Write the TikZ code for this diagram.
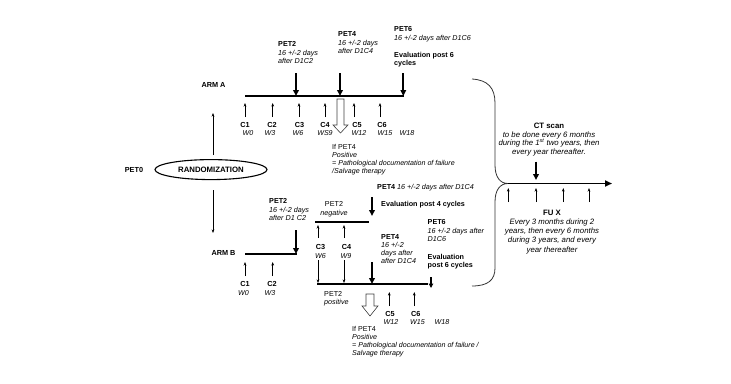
\documentclass[tikz,border=0pt]{standalone}
\usepackage{fontspec}
\setmainfont{Liberation Sans}
\usetikzlibrary{arrows.meta,shapes.geometric}
\begin{document}
\begin{tikzpicture}[x=1pt,y=-1pt,
  txt/.style={inner sep=0pt, align=left, anchor=north west, font=\fontsize{7.2}{8.7}\selectfont},
  ctxt/.style={inner sep=0pt, align=center, anchor=north},
  lab/.style={inner sep=0pt, font=\fontsize{7.3}{8.7}\selectfont\bfseries},
  wlab/.style={inner sep=0pt, font=\fontsize{7.1}{8.7}\selectfont\itshape},
  tline/.style={line width=2pt},
  thinarr/.style={-{Stealth[length=3.6pt,width=2.8pt]}, line width=0.65pt},
  thickarr/.style={-{Triangle[length=6pt,width=5.6pt]}, line width=1.8pt},
  hollow/.style={draw=black!75, line width=0.6pt, fill=white},
]
\useasboundingbox (0,0) rectangle (731,383);

% ---------------- ARM A ----------------
\node[lab] (armA) at (213.5,85) {ARM A};
\coordinate (a0) at (245,96);
\coordinate (a1) at (404,96);
\draw[tline] (a0) -- (a1);

\foreach \n/\x in {2/296,4/340,6/403.3}{
  \coordinate (pA\n t) at (\x,73);
  \coordinate (pA\n b) at (\x,96);
  \draw[thickarr] (pA\n t) -- (pA\n b);
}
\node[txt] (pet2A) at (278,41.3) {{\bfseries PET2}\\{\itshape 16 +/-2 days}\\{\itshape after D1C2}};
\node[txt] (pet4A) at (338,31.3) {{\bfseries PET4}\\{\itshape 16 +/-2 days}\\{\itshape after D1C4}};
\node[txt] (pet6A) at (394,26.5) {{\bfseries PET6}\\{\itshape 16 +/-2 days after D1C6}\\[8pt]{\bfseries Evaluation post 6}\\{\bfseries cycles}};

\foreach \n/\x in {1/245,2/272.7,3/299,4/325,5/354,6/380}{
  \coordinate (cA\n b) at (\x,117);
  \coordinate (cA\n t) at (\x,103);
  \draw[thinarr] (cA\n b) -- (cA\n t);
}
\foreach \n/\x in {1/245,2/272,3/299.5,4/325,5/357,6/382}{
  \node[lab] (CA\n) at (\x,125) {C\n};
}
\foreach \n/\w/\x in {1/W0/248,2/W3/270,3/W6/298,4/WS9/325,5/W12/359,6/W15/385,7/W18/407}{
  \node[wlab] (WA\n) at (\x,133.3) {\w};
}
\draw[hollow] (337,99) -- (344,99) -- (344,125) -- (348,125) -- (340.5,133) -- (333,125) -- (337,125) -- cycle;
\node[txt, font=\fontsize{7.1}{8}\selectfont\itshape] (ifA) at (332,144.3)
  {{\upshape If PET4}\\Positive\\= Pathological documentation of failure\\/Salvage therapy};

% ---------------- randomization ----------------
\node[draw, ellipse, line width=1.1pt, minimum width=112pt, minimum height=20pt, inner sep=0pt,
      font=\fontsize{7.8}{9}\selectfont\bfseries] (rand) at (211,169.6) {RANDOMIZATION};
\node[lab] (pet0) at (134,169.5) {PET0};
\coordinate (ru0) at (213,155);
\coordinate (ru1) at (213,113);
\draw[thinarr] (ru0) -- (ru1);
\coordinate (rd0) at (213,190);
\coordinate (rd1) at (213,233);
\draw[thinarr] (rd0) -- (rd1);

% ---------------- ARM B ----------------
\node[lab] (armB) at (223.5,253) {ARM B};
\coordinate (b0) at (245,254);
\coordinate (b1) at (297,254);
\draw[tline] (b0) -- (b1);
\coordinate (pB2t) at (296,230);
\coordinate (pB2b) at (296,254);
\draw[thickarr] (pB2t) -- (pB2b);
\node[txt] (pet2B) at (269,198.3) {{\bfseries PET2}\\{\itshape 16 +/-2 days}\\{\itshape after D1 C2}};

\foreach \n/\x in {1/245,2/272.7}{
  \coordinate (cB\n b) at (\x,276);
  \coordinate (cB\n t) at (\x,262);
  \draw[thinarr] (cB\n b) -- (cB\n t);
}
\node[lab] (CB1) at (245,284) {C1};
\node[lab] (CB2) at (272,284) {C2};
\node[wlab] (WB1) at (243.5,293) {W0};
\node[wlab] (WB2) at (270,293) {W3};

% upper branch (PET2 negative)
\coordinate (u0) at (315,221.5);
\coordinate (u1) at (369,221.5);
\draw[tline] (u0) -- (u1);
\node[ctxt, font=\fontsize{7.2}{8.5}\selectfont] (neg) at (334,201.3) {PET2\\\textit{negative}};
\coordinate (pU4t) at (372,197);
\coordinate (pU4b) at (372,216);
\draw[thickarr] (pU4t) -- (pU4b);
\node[txt] (pet4U) at (377,184.3) {{\bfseries PET4} {\itshape 16 +/-2 days after D1C4}};
\node[txt] (evalU) at (381,201.3) {\bfseries Evaluation post 4 cycles};

\foreach \n/\x in {3/318,4/344}{
  \coordinate (cB\n b) at (\x,238);
  \coordinate (cB\n t) at (\x,225);
  \draw[thinarr] (cB\n b) -- (cB\n t);
  \coordinate (dB\n t) at (\x,260);
  \coordinate (dB\n b) at (\x,283);
  \draw[thinarr] (dB\n t) -- (dB\n b);
}
\node[lab] (CB3) at (320.5,247) {C3};
\node[lab] (CB4) at (346.5,247) {C4};
\node[wlab] (WB3) at (320.5,256) {W6};
\node[wlab] (WB4) at (346,256) {W9};

% lower branch (PET2 positive)
\coordinate (l0) at (317,284);
\coordinate (l1) at (428,284);
\draw[tline] (l0) -- (l1);
\coordinate (pL4t) at (372,262);
\coordinate (pL4b) at (372,284);
\draw[thickarr] (pL4t) -- (pL4b);
\node[txt, font=\fontsize{7.2}{8.2}\selectfont] (pet4L) at (381,234.2)
  {{\bfseries PET4}\\{\itshape 16 +/-2}\\{\itshape days after}\\{\itshape after D1C4}};
\coordinate (pL6t) at (431,277);
\coordinate (pL6b) at (431,288);
\draw[-{Triangle[length=4.5pt,width=4.5pt]}, line width=1.5pt] (pL6t) -- (pL6b);
\node[txt, font=\fontsize{7.2}{8.4}\selectfont] (pet6L) at (427.5,219.7)
  {{\bfseries PET6}\\{\itshape 16 +/-2 days after}\\{\itshape D1C6}\\[9pt]{\bfseries Evaluation}\\{\bfseries post 6 cycles}};

\node[txt, font=\fontsize{7.2}{8.3}\selectfont] (pos) at (324,291.3) {PET2\\\textit{positive}};
\draw[hollow] (366,294) -- (374,294) -- (374,306) -- (378,306) -- (370,316) -- (362,306) -- (366,306) -- cycle;

\foreach \n/\x in {5/389.3,6/414.3}{
  \coordinate (cB\n b) at (\x,306);
  \coordinate (cB\n t) at (\x,292);
  \draw[thinarr] (cB\n b) -- (cB\n t);
}
\node[lab] (CB5) at (390,314) {C5};
\node[lab] (CB6) at (415.7,314) {C6};
\node[wlab] (WB5) at (391,322.5) {W12};
\node[wlab] (WB6) at (417.5,322.5) {W15};
\node[wlab] (WB7) at (442,322.5) {W18};
\node[txt, font=\fontsize{7.1}{8}\selectfont\itshape] (ifB) at (352,326.3)
  {{\upshape If PET4}\\Positive\\= Pathological documentation of failure /\\Salvage therapy};

% ---------------- follow-up ----------------
\draw[line width=0.8pt, black!80] (472,79) .. controls (488,80) and (495,88) .. (495,103)
  -- (495,165) .. controls (495,177) and (500,183.5) .. (508,183.5)
  .. controls (500,183.5) and (495,190) .. (495,202)
  -- (495,268) .. controls (495,280) and (488,286) .. (472,286);

\coordinate (f0) at (508,183.5);
\coordinate (f1) at (612,183.5);
\draw[line width=1.8pt, -{Triangle[length=7pt,width=6pt]}] (f0) -- (f1);
\coordinate (ct0) at (536,161.5);
\coordinate (ct1) at (536,180);
\draw[thickarr] (ct0) -- (ct1);
\foreach \n/\x in {1/508.3,2/536,3/563.3,4/589}{
  \coordinate (fu\n b) at (\x,202);
  \coordinate (fu\n t) at (\x,188);
  \draw[thinarr] (fu\n b) -- (fu\n t);
}
\node[ctxt, font=\fontsize{7.8}{8.6}\selectfont\itshape] (ct) at (549,122.8)
  {{\upshape\bfseries CT scan}\\to be done every 6 months\\during the 1\textsuperscript{st} two years, then\\every year thereafter.};
\node[ctxt, font=\fontsize{7.8}{9.2}\selectfont\itshape] (fu) at (552,209.8)
  {{\upshape\bfseries FU X}\\Every 3 months during 2\\years, then every 6 months\\during 3 years, and every\\year thereafter};
\end{tikzpicture}
\end{document}
